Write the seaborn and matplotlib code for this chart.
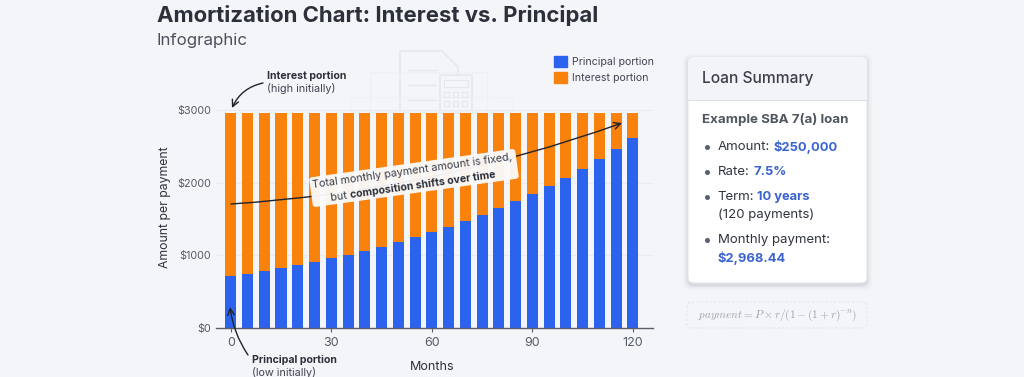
import matplotlib
matplotlib.use('Agg')
import matplotlib.pyplot as plt
import seaborn as sns
from matplotlib.patches import FancyBboxPatch, Rectangle, Polygon, Patch
from matplotlib.transforms import Affine2D

# data
months = [0, 5, 10, 15, 20, 25, 30, 35, 40, 45, 50, 55, 60, 65, 70, 75, 80, 85, 90, 95, 100, 105, 110, 115, 120]
principal = [713, 745, 782, 823, 864, 910, 956, 1007, 1062, 1117, 1182, 1251, 1315, 1393, 1476, 1554, 1651, 1752,
             1848, 1954, 2069, 2189, 2326, 2468, 2616]
interest = [2255, 2223, 2186, 2145, 2104, 2058, 2012, 1961, 1906, 1851, 1786, 1717, 1653, 1575, 1492, 1414, 1317, 1216,
            1120, 1014, 899, 779, 642, 500, 352]
totals = [p + i for p, i in zip(principal, interest)]
y_ticks = [0, 1000, 2000, 3000]
y_labels = ['$0', '$1000', '$2000', '$3000']
x_ticks = [0, 30, 60, 90, 120]

BG = '#f4f5f9'
BLUE = '#2b62ee'
ORANGE = '#f9820d'
DARK = '#2b303a'
GREY = '#555b66'
W, H = 1024, 377

sns.set_theme(style='white')
plt.rcParams['font.family'] = ['Inter', 'DejaVu Sans']

fig = plt.figure(figsize=(W / 100, H / 100), dpi=100, facecolor=BG)

# background layer in pixel coordinates
bg = fig.add_axes([0, 0, 1, 1], zorder=0)
bg.set_xlim(0, W)
bg.set_ylim(H, 0)
bg.axis('off')

# faint document and calculator behind the chart
faint = '#e5e7ed'
pale = '#eef0f4'
bg.add_patch(Polygon([(400, 110), (400, 51), (442, 51), (458, 67), (458, 110)], closed=False, fill=False, ec=faint, lw=1.2))
bg.add_patch(Rectangle((440, 75), 32, 38, fc=BG, ec=faint, lw=1.2))
bg.add_patch(Rectangle((370, 72), 117, 40, fill=False, ec=pale, lw=0.8))
bg.add_patch(Rectangle((350, 97), 163, 14, fill=False, ec=pale, lw=0.8))
for yy in [70, 85, 100]:
    bg.plot([408, 436], [yy, yy], color=faint, lw=1)
bg.add_patch(Rectangle((444, 80), 24, 7, fill=False, ec=faint, lw=0.8))
for yy in [92, 101]:
    for xx in [444, 453, 462]:
        bg.add_patch(Rectangle((xx, yy), 5, 5, fill=False, ec=faint, lw=0.8))

# main chart
left, right, top, bottom = 216, 653, 100, 327.7
ax = fig.add_axes([left / W, 1 - bottom / H, (right - left) / W, (bottom - top) / H], zorder=1)
ax.patch.set_alpha(0)
sns.barplot(x=months, y=totals, color=ORANGE, native_scale=True, width=0.66, saturation=1, ax=ax, errorbar=None, linewidth=0)
sns.barplot(x=months, y=principal, color=BLUE, native_scale=True, width=0.66, saturation=1, ax=ax, errorbar=None, linewidth=0)

ax.set_xlim(-4.4, 126)
ax.set_ylim(0, 3000 * (bottom - top) / 217.5)
ax.set_yticks(y_ticks, y_labels)
ax.set_xticks(x_ticks, [str(m) for m in x_ticks])
ax.grid(axis='y', color='#e9ebf0', lw=0.8)
ax.set_axisbelow(True)
for s in ['top', 'right', 'left']:
    ax.spines[s].set_visible(False)
ax.spines['bottom'].set_color('#59606b')
ax.spines['bottom'].set_linewidth(1)
ax.tick_params(axis='x', length=3, width=0.8, color='#59606b', labelcolor=GREY, labelsize=9, pad=4, bottom=True)
ax.tick_params(axis='y', length=0, labelcolor=GREY, labelsize=7.8, pad=3.5)
ax.set_xlabel('Months', fontsize=9, color=DARK)
ax.xaxis.set_label_coords(0.494, -0.147)
ax.set_ylabel('Amount per payment', fontsize=8.8, color=DARK)
ax.yaxis.set_label_coords(-0.104, 0.528)
ax.legend(handles=[Patch(color=BLUE, label='Principal portion'), Patch(color=ORANGE, label='Interest portion')],
          loc='upper left', bbox_to_anchor=(338 / 437, 1.194), frameon=False, fontsize=7.6, labelcolor='#3f4551',
          handlelength=1.2, handleheight=1.2, handletextpad=0.5, labelspacing=0.5, borderpad=0, borderaxespad=0)

# overlay in pixel coordinates
ov = fig.add_axes([0, 0, 1, 1], zorder=2)
ov.set_xlim(0, W)
ov.set_ylim(H, 0)
ov.axis('off')

ov.text(157, 16, 'Amortization Chart: Interest vs. Principal', fontsize=15.95, fontweight='bold', color=DARK, va='center')
ov.text(157, 41, 'Infographic', fontsize=12.2, color='#4b515c', va='center')

# callouts
ov.text(267, 76, 'Interest portion', fontsize=7.6, fontweight='bold', color=DARK, va='center')
ov.text(267, 89, '(high initially)', fontsize=7.8, color='#3f4551', va='center')
ov.annotate('', xy=(232, 108), xytext=(263, 83),
            arrowprops=dict(arrowstyle='->', color='#20242c', lw=1, connectionstyle='arc3,rad=0.25', shrinkA=0, shrinkB=0))
ov.text(252, 360, 'Principal portion', fontsize=7.6, fontweight='bold', color=DARK, va='center')
ov.text(252, 373, '(low initially)', fontsize=7.8, color='#3f4551', va='center')
ov.annotate('', xy=(230, 307), xytext=(248, 355),
            arrowprops=dict(arrowstyle='->', color='#20242c', lw=1, connectionstyle='arc3,rad=-0.12', shrinkA=0, shrinkB=0))

# long arrow runs under the tilted box
ov.annotate('', xy=(622, 123), xytext=(231, 204),
            arrowprops=dict(arrowstyle='->', color='#20242c', lw=1, connectionstyle='arc3,rad=0.07', shrinkA=0, shrinkB=0))
angle = 8
rot = Affine2D().rotate_deg_around(414, 178, -angle) + ov.transData
ov.add_patch(FancyBboxPatch((310, 163), 208, 30, boxstyle='round,pad=0,rounding_size=3', fc='#fbfbfd', ec='none',
                            alpha=0.95, transform=rot, zorder=5))
ov.text(412, 171, 'Total monthly payment amount is fixed,', fontsize=7.8, color='#3a3f4a', rotation=angle,
        rotation_mode='anchor', ha='center', va='center', zorder=6)
ov.text(331, 198, 'but ', fontsize=7.8, color='#3a3f4a', rotation=angle, rotation_mode='anchor',
        ha='left', va='center', zorder=6)
ov.text(350, 195.5, 'composition shifts over time', fontsize=7.6, fontweight='bold', color='#2b303a', rotation=angle,
        rotation_mode='anchor', ha='left', va='center', zorder=6)

# loan summary card
cx, cy, cw, ch = 688, 57, 179, 226
for grow, a in [(5, 0.02), (3.5, 0.03), (2, 0.04), (1, 0.05)]:
    ov.add_patch(FancyBboxPatch((cx - grow, cy - grow + 2), cw + 2 * grow, ch + 2 * grow,
                                boxstyle='round,pad=0,rounding_size=7', fc='#30364a', ec='none', alpha=a))
card = FancyBboxPatch((cx, cy), cw, ch, boxstyle='round,pad=0,rounding_size=6', fc='white', ec='#e4e6eb', lw=0.8)
ov.add_patch(card)
head = Rectangle((cx, cy), cw, 42.5, fc='#f3f4f8', ec='none')
ov.add_patch(head)
head.set_clip_path(card)
ov.plot([cx, cx + cw], [cy + 42.5, cy + 42.5], color='#dfe1e7', lw=0.8)

ov.text(702, 79, 'Loan Summary', fontsize=11.2, fontweight='medium', color='#3a3f4a', va='center')
ov.text(702, 120, 'Example SBA 7(a) loan', fontsize=9.6, fontweight='bold', color='#50565f', va='center')

rows = [(147, 'Amount:', '$250,000', 774), (172, 'Rate:', '7.5%', 753), (197, 'Term:', '10 years', 757)]
for yy, lab, val, vx in rows:
    ov.plot([707], [yy], 'o', ms=2.6, color='#596070')
    ov.text(717.5, yy, lab, fontsize=9.5, color='#2f343d', va='center')
    ov.text(vx, yy, val, fontsize=9.3, fontweight='bold', color='#3a63cf', va='center')
ov.text(718, 215, '(120 payments)', fontsize=9.5, color='#2f343d', va='center')
ov.plot([707], [240], 'o', ms=2.6, color='#596070')
ov.text(717.5, 240, 'Monthly payment:', fontsize=9.5, color='#2f343d', va='center')
ov.text(717.5, 258, '$2,968.44', fontsize=9.3, fontweight='bold', color='#3a63cf', va='center')

# formula box
ov.add_patch(FancyBboxPatch((687, 302), 180, 26, boxstyle='round,pad=0,rounding_size=5', fc='none', ec='#e3e5ea',
                            lw=0.8, ls=(0, (2, 2))))
ov.text(777, 315.5, r'$payment = P \times r/(1-(1+r)^{-n})$', fontsize=8.1, color='#9fa3ac', ha='center', va='center',
        math_fontfamily='cm')

fig.savefig('out.png', dpi=100, facecolor=fig.get_facecolor())
